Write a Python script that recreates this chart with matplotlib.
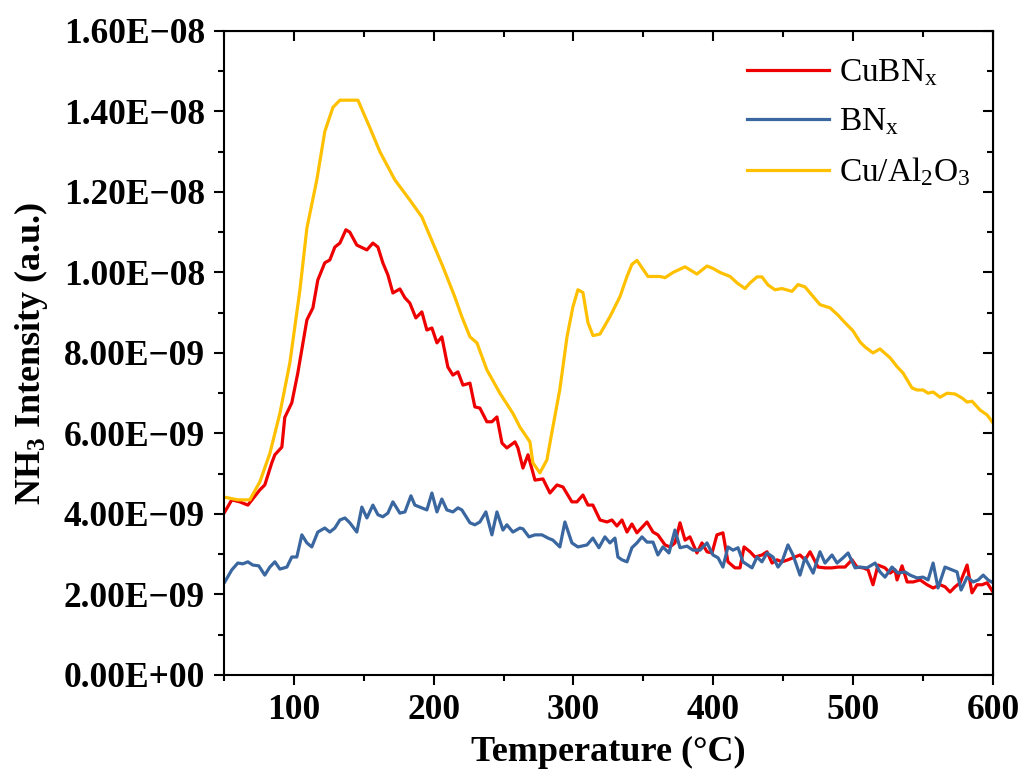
import matplotlib
matplotlib.use("Agg")
import matplotlib.pyplot as plt
from matplotlib.ticker import MultipleLocator, FuncFormatter

plt.rcParams['font.family'] = ['Liberation Serif', 'DejaVu Serif']
plt.rcParams['mathtext.fontset'] = 'custom'
plt.rcParams['mathtext.rm'] = 'Liberation Serif'
plt.rcParams['mathtext.bf'] = 'Liberation Serif:bold'
plt.rcParams['mathtext.default'] = 'rm'

# CuBNx (temperature in C, intensity in 1e-9 a.u.)
t_cubn = [50.7, 55.7, 61.4, 67.2, 75.8, 79.3, 84.3, 86.5, 91.5, 93.6, 98.6, 102.9, 109.4, 113.7,
          117.2, 122.2, 125.8, 129.4, 133.0, 137.3, 140.1, 145.1, 152.3, 156.6, 160.2, 163.7,
          167.3, 170.9, 175.9, 179.5, 183.0, 187.3, 191.6, 195.2, 198.8, 202.4, 205.9, 210.2,
          213.8, 217.4, 221.0, 226.0, 229.5, 233.1, 238.1, 241.7, 245.3, 248.9, 252.4, 258.2,
          260.3, 263.9, 267.5, 272.5, 278.2, 283.2, 288.2, 292.5, 298.9, 302.5, 306.8, 310.4,
          313.9, 319.0, 324.0, 327.5, 331.1, 334.7, 338.3, 341.8, 345.4, 352.6, 356.9, 360.4,
          365.5, 369.0, 372.6, 376.2, 379.8, 383.3, 388.3, 391.9, 395.5, 399.1, 402.6, 406.9,
          410.5, 415.5, 419.1, 422.0, 426.3, 429.8, 434.8, 438.4, 442.0, 445.6, 449.1, 453.4,
          457.0, 462.0, 465.6, 469.2, 474.9, 479.9, 484.9, 489.2, 494.2, 499.2, 502.8, 507.1,
          510.7, 514.2, 517.8, 522.8, 526.4, 530.0, 531.4, 535.0, 538.6, 542.9, 547.9, 552.9,
          557.2, 562.2, 565.7, 569.3, 572.9, 576.5, 581.5, 585.0, 588.6, 592.2, 595.8, 600.0]
v_cubn = [4.05, 4.35, 4.30, 4.22, 4.60, 4.72, 5.27, 5.47, 5.66, 6.40, 6.76, 7.50, 8.82, 9.12,
          9.81, 10.24, 10.31, 10.63, 10.73, 11.06, 11.00, 10.68, 10.56, 10.73, 10.63, 10.24,
          9.94, 9.49, 9.59, 9.37, 9.24, 8.87, 9.02, 8.57, 8.62, 8.25, 8.40, 7.65,
          7.45, 7.53, 7.20, 7.25, 6.66, 6.63, 6.29, 6.29, 6.41, 5.76, 5.64, 5.79,
          5.64, 5.14, 5.47, 4.84, 4.87, 4.52, 4.72, 4.67, 4.30, 4.30, 4.47, 4.22,
          4.22, 3.85, 3.80, 3.85, 3.70, 3.85, 3.55, 3.75, 3.53, 3.80, 3.55, 3.48,
          3.23, 3.18, 3.28, 3.78, 3.35, 3.43, 3.03, 3.28, 3.06, 3.03, 3.48, 3.53,
          2.81, 2.66, 2.66, 3.18, 3.06, 2.93, 2.98, 3.06, 2.78, 2.86, 2.81, 2.86,
          2.91, 2.98, 2.86, 3.06, 2.68, 2.66, 2.66, 2.68, 2.68, 2.86, 2.68, 2.66,
          2.61, 2.24, 2.73, 2.66, 2.53, 2.61, 2.36, 2.71, 2.31, 2.31, 2.36, 2.24,
          2.16, 2.24, 2.19, 2.06, 2.19, 2.29, 2.73, 2.04, 2.24, 2.24, 2.29, 2.06]

# BNx
t_bn = [50.7, 55.7, 60.0, 63.6, 67.2, 70.7, 75.0, 79.3, 82.9, 86.5, 90.1, 95.1, 98.6, 102.2,
        105.8, 109.4, 112.9, 117.2, 122.2, 125.8, 129.4, 133.0, 136.6, 140.1, 145.1, 148.7,
        152.3, 156.6, 160.2, 163.7, 167.3, 170.9, 175.9, 179.5, 183.8, 186.6, 190.2, 195.2,
        198.8, 202.4, 205.9, 209.5, 213.8, 217.4, 220.2, 226.0, 229.5, 233.1, 237.4, 241.7,
        245.3, 249.6, 252.4, 256.7, 261.7, 263.9, 268.2, 272.5, 277.5, 281.8, 285.3, 290.3,
        293.9, 298.9, 303.2, 309.7, 313.9, 318.2, 322.5, 326.1, 329.7, 331.8, 334.7, 338.3,
        341.8, 345.4, 349.0, 352.6, 356.9, 360.4, 364.0, 368.3, 372.6, 376.2, 381.2, 385.5,
        390.5, 395.5, 399.8, 403.4, 406.9, 410.5, 414.1, 417.7, 421.2, 427.7, 431.3, 434.8,
        438.4, 442.7, 446.3, 449.1, 453.4, 457.0, 462.0, 465.6, 471.4, 476.3, 479.9, 484.9,
        488.5, 492.8, 496.4, 501.4, 504.9, 510.0, 515.7, 519.2, 522.8, 527.8, 532.1, 537.1,
        540.7, 545.7, 550.0, 553.6, 557.2, 560.7, 565.7, 570.7, 574.3, 577.2, 581.5, 585.8,
        589.4, 593.0, 596.5, 600.0]
v_bn = [2.31, 2.61, 2.78, 2.76, 2.81, 2.73, 2.71, 2.48, 2.68, 2.81, 2.63, 2.68, 2.93, 2.93,
        3.48, 3.28, 3.18, 3.55, 3.65, 3.55, 3.65, 3.85, 3.90, 3.78, 3.55, 4.17,
        3.90, 4.22, 3.98, 3.93, 4.02, 4.30, 4.02, 4.05, 4.45, 4.22, 4.17, 4.10,
        4.52, 4.05, 4.37, 4.10, 4.05, 4.15, 4.10, 3.78, 3.73, 3.80, 4.05, 3.48,
        4.05, 3.60, 3.73, 3.55, 3.65, 3.63, 3.43, 3.48, 3.48, 3.40, 3.35, 3.18,
        3.80, 3.28, 3.18, 3.23, 3.40, 3.16, 3.43, 3.28, 3.40, 2.93, 2.86, 2.81,
        3.16, 3.28, 3.43, 3.30, 3.30, 2.98, 3.18, 3.03, 3.60, 3.16, 3.20, 3.10,
        3.10, 3.28, 2.98, 2.91, 2.68, 3.18, 3.10, 3.16, 2.81, 2.66, 2.93, 2.81,
        3.03, 2.93, 2.68, 2.81, 3.23, 2.98, 2.48, 2.91, 2.53, 3.06, 2.78, 2.98,
        2.78, 2.91, 3.03, 2.66, 2.68, 2.66, 2.78, 2.56, 2.43, 2.68, 2.53, 2.56,
        2.48, 2.41, 2.43, 2.36, 2.78, 2.16, 2.68, 2.61, 2.56, 2.11, 2.43, 2.31,
        2.36, 2.48, 2.36, 2.29]

# Cu/Al2O3
t_cual = [50.0, 60.0, 68.6, 75.8, 82.9, 90.1, 97.2, 104.4, 109.4, 116.5, 122.2, 128.0, 133.0,
          145.9, 154.4, 161.6, 172.3, 183.0, 191.6, 199.5, 206.7, 215.2, 220.2, 226.0, 231.0,
          238.1, 247.4, 256.7, 261.7, 268.9, 271.0, 276.0, 281.0, 285.3, 290.3, 295.4, 299.6,
          303.2, 306.8, 310.4, 314.0, 319.0, 326.1, 333.3, 338.3, 341.8, 345.4, 353.3, 361.9,
          365.5, 371.2, 379.8, 388.3, 395.5, 399.8, 404.8, 412.0, 417.0, 422.7, 426.3, 431.3,
          434.8, 439.1, 444.1, 449.1, 456.3, 460.6, 465.6, 476.3, 483.5, 489.2, 494.2, 499.9,
          505.0, 508.5, 514.2, 519.2, 526.4, 531.4, 535.7, 542.1, 545.7, 550.0, 553.6, 557.2,
          562.2, 567.2, 572.9, 577.9, 581.5, 585.0, 590.8, 595.8, 600.0]
v_cual = [4.42, 4.35, 4.35, 4.80, 5.50, 6.50, 7.75, 9.56, 11.10, 12.30, 13.50, 14.10, 14.28,
          14.28, 13.60, 13.00, 12.30, 11.80, 11.38, 10.73, 10.14, 9.39, 8.90, 8.40, 8.25,
          7.58, 7.00, 6.50, 6.16, 5.79, 5.27, 5.02, 5.34, 6.16, 7.10, 8.40, 9.14,
          9.57, 9.50, 8.75, 8.43, 8.47, 8.90, 9.40, 9.90, 10.20, 10.30, 9.90, 9.90,
          9.87, 10.00, 10.14, 9.96, 10.16, 10.10, 10.00, 9.90, 9.74, 9.60, 9.74, 9.89,
          9.89, 9.69, 9.57, 9.60, 9.53, 9.70, 9.64, 9.20, 9.12, 8.94, 8.75, 8.55,
          8.27, 8.15, 8.00, 8.10, 7.88, 7.66, 7.50, 7.13, 7.08, 7.08, 7.00, 7.03,
          6.90, 7.00, 6.98, 6.88, 6.78, 6.80, 6.58, 6.46, 6.26]

fig = plt.figure(figsize=(10.22, 7.74), dpi=100)
ax = fig.add_axes([0.219, 0.128, 0.7526, 0.832])

scale = 1e-9
ax.plot(t_cubn, [v * scale for v in v_cubn], color='#EE0000', lw=2.3, label=r'CuBN$_\mathrm{x}$')
ax.plot(t_bn, [v * scale for v in v_bn], color='#3A67A0', lw=2.3, label=r'BN$_\mathrm{x}$')
ax.plot(t_cual, [v * scale for v in v_cual], color='#FFC000', lw=2.3,
        label=r'Cu/Al$_\mathrm{2}$O$_\mathrm{3}$')

ax.set_xlim(50, 600)
ax.set_ylim(0, 1.6e-8)
ax.xaxis.set_major_locator(MultipleLocator(100))
ax.xaxis.set_minor_locator(MultipleLocator(50))
ax.yaxis.set_major_locator(MultipleLocator(2e-9))
ax.yaxis.set_minor_locator(MultipleLocator(1e-9))
ax.yaxis.set_major_formatter(FuncFormatter(lambda v, p: f"{v:.2E}".replace('-', '\u2212')))

for s in ax.spines.values():
    s.set_linewidth(1.5)
ax.tick_params(which='major', direction='out', length=7.5, width=1.5, labelsize=25.5)
ax.tick_params(axis='x', which='major', pad=6)
ax.tick_params(axis='y', which='major', pad=6)
ax.tick_params(which='minor', direction='out', length=4, width=1.5)
for lab in ax.get_xticklabels() + ax.get_yticklabels():
    lab.set_fontweight('bold')

# mirrored ticks pointing inward on top and right
axt = ax.secondary_xaxis('top')
axt.xaxis.set_major_locator(MultipleLocator(100))
axt.xaxis.set_minor_locator(MultipleLocator(50))
axt.tick_params(which='major', direction='in', length=7.5, width=1.5, labeltop=False)
axt.tick_params(which='minor', direction='in', length=4, width=1.5)
axr = ax.secondary_yaxis('right')
axr.yaxis.set_major_locator(MultipleLocator(2e-9))
axr.yaxis.set_minor_locator(MultipleLocator(1e-9))
axr.tick_params(which='major', direction='in', length=7.5, width=1.5, labelright=False)
axr.tick_params(which='minor', direction='in', length=4, width=1.5)

ax.set_xlabel('Temperature (\u00b0C)', fontsize=26, fontweight='bold', labelpad=7)
ax.set_ylabel(r'NH$_\mathbf{3}$ Intensity (a.u.)', fontsize=26, fontweight='bold', labelpad=10)

ax.legend(loc='upper right', frameon=False, fontsize=24, handlelength=2.45,
          handletextpad=0.3, labelspacing=0.55, borderaxespad=0.4,
          bbox_to_anchor=(1.005, 1.0))

fig.savefig('out.png', dpi=100)
